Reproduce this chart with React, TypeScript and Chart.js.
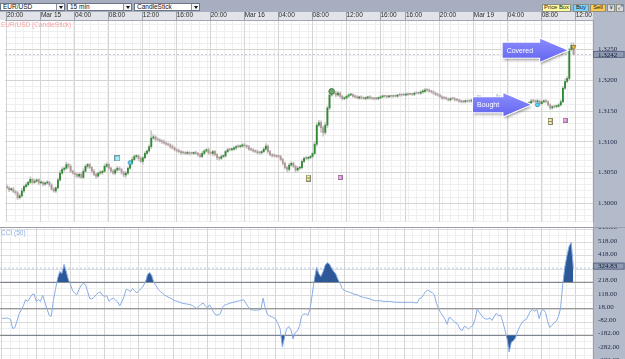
import React, { useEffect, useRef } from 'react';
import { Chart, registerables } from 'chart.js';

Chart.register(...registerables);

// ---------------- data ----------------
const timeTickBars = [0, 16, 32, 48, 64, 80, 96, 112, 128, 144, 160, 176, 188, 204, 220, 236, 252, 268];
const timeTickLabels = ['20:00', 'Mar 15', '04:00', '08:00', '12:00', '16:00', '20:00', 'Mar 16', '04:00', '08:00', '12:00', '16:00', '16:00', '20:00', 'Mar 19', '04:00', '08:00', '12:00'];

const firstOpen = 1.3027;
const closes = [
  1.3025, 1.3022, 1.3023, 1.3019, 1.3017, 1.3009, 1.3012, 1.3020, 1.3027, 1.3030,
  1.3034, 1.3039, 1.3034, 1.3036, 1.3038, 1.3033, 1.3034, 1.3031, 1.3033, 1.3034,
  1.3030, 1.3023, 1.3020, 1.3025, 1.3038, 1.3049, 1.3055, 1.3057, 1.3063, 1.3060,
  1.3052, 1.3049, 1.3047, 1.3044, 1.3047, 1.3042, 1.3052, 1.3060, 1.3063, 1.3058,
  1.3052, 1.3047, 1.3044, 1.3049, 1.3050, 1.3052, 1.3060, 1.3063, 1.3057, 1.3052,
  1.3049, 1.3054, 1.3057, 1.3055, 1.3050, 1.3046, 1.3049, 1.3057, 1.3065, 1.3071,
  1.3076, 1.3077, 1.3073, 1.3068, 1.3074, 1.3081, 1.3085, 1.3092, 1.3106, 1.3108,
  1.3104, 1.3103, 1.3101, 1.3100, 1.3098, 1.3096, 1.3095, 1.3092, 1.3090, 1.3087,
  1.3085, 1.3084, 1.3082, 1.3082, 1.3081, 1.3082, 1.3081, 1.3081, 1.3082, 1.3081,
  1.3079, 1.3076, 1.3081, 1.3085, 1.3087, 1.3082, 1.3081, 1.3084, 1.3079, 1.3074,
  1.3073, 1.3076, 1.3077, 1.3084, 1.3087, 1.3087, 1.3088, 1.3090, 1.3092, 1.3092,
  1.3093, 1.3095, 1.3093, 1.3092, 1.3088, 1.3087, 1.3085, 1.3084, 1.3082, 1.3082,
  1.3084, 1.3088, 1.3093, 1.3084, 1.3079, 1.3077, 1.3077, 1.3076, 1.3076, 1.3071,
  1.3065, 1.3058, 1.3055, 1.3062, 1.3065, 1.3060, 1.3054, 1.3057, 1.3058, 1.3068,
  1.3073, 1.3073, 1.3074, 1.3076, 1.3081, 1.3096, 1.3127, 1.3131, 1.3123, 1.3115,
  1.3127, 1.3155, 1.3176, 1.3181, 1.3179, 1.3176, 1.3179, 1.3174, 1.3170, 1.3171,
  1.3174, 1.3176, 1.3177, 1.3174, 1.3173, 1.3171, 1.3173, 1.3171, 1.3170, 1.3171,
  1.3173, 1.3171, 1.3170, 1.3170, 1.3170, 1.3171, 1.3173, 1.3174, 1.3174, 1.3173,
  1.3174, 1.3174, 1.3174, 1.3174, 1.3176, 1.3176, 1.3176, 1.3176, 1.3177, 1.3177,
  1.3177, 1.3177, 1.3179, 1.3179, 1.3179, 1.3181, 1.3182, 1.3184, 1.3184, 1.3182,
  1.3181, 1.3179, 1.3177, 1.3176, 1.3173, 1.3171, 1.3171, 1.3170, 1.3168, 1.3170,
  1.3170, 1.3168, 1.3168, 1.3166, 1.3165, 1.3165, 1.3166, 1.3166, 1.3166, 1.3168,
  1.3168, 1.3170, 1.3173, 1.3171, 1.3170, 1.3168, 1.3168, 1.3168, 1.3170, 1.3168,
  1.3170, 1.3173, 1.3171, 1.3170, 1.3165, 1.3158, 1.3154, 1.3149, 1.3150, 1.3152,
  1.3154, 1.3157, 1.3158, 1.3160, 1.3162, 1.3162, 1.3163, 1.3166, 1.3166, 1.3165,
  1.3166, 1.3162, 1.3165, 1.3166, 1.3165, 1.3160, 1.3155, 1.3157, 1.3157, 1.3158,
  1.3160, 1.3165, 1.3187, 1.3198, 1.3203, 1.3250, 1.3257, 1.3242,
];
const wickUpPips = [
  3, 2, 2, 3, 2, 2, 3, 4, 2, 3, 2, 4, 2, 3, 2, 2, 3, 2, 2, 3,
  2, 2, 3, 2, 3, 4, 3, 2, 4, 2, 3, 2, 2, 3, 2, 3, 4, 3, 2, 2,
  2, 3, 2, 2, 3, 2, 4, 3, 2, 2, 3, 2, 3, 2, 2, 2, 3, 2, 3, 4,
  3, 2, 2, 3, 2, 3, 2, 3, 12, 4, 2, 3, 2, 2, 3, 2, 2, 2, 3, 2,
  2, 3, 2, 2, 2, 3, 2, 2, 2, 3, 2, 2, 3, 2, 2, 3, 2, 2, 2, 2,
  2, 3, 2, 2, 3, 2, 2, 2, 2, 3, 2, 2, 3, 2, 2, 2, 2, 2, 3, 2,
  2, 3, 4, 2, 2, 2, 3, 2, 2, 2, 2, 2, 2, 3, 3, 2, 2, 3, 2, 3,
  2, 3, 2, 2, 2, 3, 4, 4, 3, 3, 4, 3, 4, 5, 3, 3, 3, 2, 2, 2,
  2, 2, 2, 1, 2, 2, 1, 2, 2, 2, 1, 2, 2, 1, 2, 2, 2, 2, 1, 2,
  2, 1, 2, 2, 1, 2, 1, 2, 2, 1, 2, 1, 2, 2, 1, 2, 3, 3, 2, 2,
  2, 2, 2, 1, 2, 2, 2, 2, 1, 2, 2, 2, 2, 1, 2, 2, 2, 2, 2, 2,
  2, 2, 3, 2, 2, 2, 2, 2, 2, 2, 2, 4, 2, 2, 2, 2, 2, 2, 2, 2,
  2, 2, 2, 2, 2, 2, 2, 3, 3, 2, 3, 2, 3, 2, 3, 2, 2, 2, 2, 2,
  2, 3, 3, 4, 3, 2, 4, 4,
];
const wickDownPips = [
  2, 3, 2, 2, 3, 3, 2, 2, 3, 2, 2, 2, 3, 2, 2, 3, 2, 3, 2, 2,
  3, 2, 2, 3, 2, 2, 2, 3, 2, 3, 2, 2, 4, 2, 3, 2, 2, 2, 3, 2,
  3, 2, 4, 2, 2, 3, 2, 2, 3, 2, 2, 3, 2, 2, 3, 3, 4, 2, 2, 3,
  2, 3, 4, 2, 5, 2, 2, 2, 3, 2, 2, 2, 2, 3, 2, 2, 2, 3, 2, 2,
  2, 2, 3, 2, 2, 2, 3, 2, 2, 2, 3, 2, 2, 2, 2, 3, 2, 4, 2, 3,
  3, 2, 2, 2, 2, 2, 2, 2, 3, 2, 2, 2, 2, 3, 2, 2, 2, 2, 2, 3,
  2, 2, 2, 3, 2, 2, 2, 2, 3, 2, 3, 2, 4, 3, 2, 2, 4, 2, 2, 2,
  2, 2, 3, 2, 3, 2, 3, 3, 8, 6, 3, 4, 3, 2, 2, 3, 2, 3, 2, 2,
  2, 2, 1, 2, 2, 1, 2, 2, 1, 2, 2, 2, 1, 2, 2, 2, 1, 2, 2, 2,
  1, 2, 2, 1, 2, 2, 2, 1, 2, 2, 1, 2, 2, 1, 2, 2, 2, 2, 2, 1,
  2, 2, 2, 2, 1, 2, 2, 2, 2, 2, 1, 2, 2, 2, 2, 2, 2, 2, 2, 2,
  2, 2, 2, 2, 2, 2, 2, 2, 2, 2, 2, 2, 2, 2, 3, 2, 4, 3, 3, 2,
  2, 2, 2, 2, 2, 2, 2, 2, 2, 2, 2, 3, 2, 2, 2, 2, 3, 2, 2, 2,
  2, 2, 2, 2, 2, 2, 2, 1,
];
const priceTicks = [1.3, 1.305, 1.31, 1.315, 1.32, 1.325];

const cciValues = [
  -52, -55, -50, -55, -62, -130, -125, -74, -20, 10,
  40, 87, 74, 99, 125, 130, 74, 87, 74, 120,
  70, 20, -30, -40, 80, 165, 248, 300, 285, 353,
  300, 240, 200, 155, 135, 124, 165, 195, 210, 200,
  150, 95, 92, 105, 124, 140, 145, 118, 113, 116,
  74, 90, 99, 85, 72, 40, 70, 110, 165, 160,
  148, 170, 155, 137, 155, 170, 190, 218, 275, 292,
  268, 215, 192, 165, 148, 135, 122, 112, 104, 97,
  84, 78, 74, 68, 62, 57, 55, 52, 50, 42,
  32, 20, 35, 52, 62, 40, 25, 48, 20, -12,
  -30, -28, -20, 30, 45, 50, 58, 63, 67, 72,
  75, 80, 84, 86, 60, 35, 14, 9, 8, 8,
  10, 13, 99, 25, -24, -35, -42, -50, -61, -95,
  -135, -271, -200, -135, -115, -140, -209, -162, -150, -115,
  -35, -22, -20, -30, 20, 130, 245, 330, 285, 262,
  297, 346, 366, 356, 325, 300, 280, 240, 210, 170,
  158, 150, 144, 140, 132, 127, 124, 114, 108, 104,
  100, 97, 92, 85, 81, 79, 79, 79, 75, 74,
  74, 74, 72, 69, 68, 67, 67, 67, 67, 67,
  67, 67, 67, 64, 62, 95, 100, 124, 150, 160,
  148, 140, 125, 60, 20, -12, -35, -60, -98, -45,
  -55, -75, -88, -100, -135, -148, -115, -120, -135, -120,
  -108, -65, 13, -8, -30, -50, -58, -60, -50, -70,
  -40, -15, -35, -28, -80, -140, -209, -308, -234, -222,
  -200, -150, -115, -85, -70, -62, -30, 2, 12, 0,
  13, -56, 0, 13, -10, -80, -123, -105, -90, -75,
  -40, 20, 198, 333, 420, 490, 519, 324.83,
];
const cciTicks = [618, 518, 418, 318, 218, 118, 18, -82, -182, -282, -382];
const cciLevels = [218, 18, -182];

const markerKinds = ['cyanSquare', 'cyanDot', 'yellowTag', 'pinkSquare', 'greenDot', 'cyanDot', 'yellowTag', 'pinkSquare', 'coveredTri'];
const markerBars = [52, 58, 142, 157, 153, 250, 256, 263, 267];
const markerPrices = [1.3073, 1.3066, 1.3041, 1.3042, 1.3182, 1.316, 1.3133, 1.3135, 1.3254];

const arrowTexts = ['Covered', 'Bought'];
const arrowTailBars = [233.6, 219.6];
const arrowTipBars = [264.0, 246.7];
const arrowPrices = [1.3249, 1.316];

// ---------------- helpers ----------------
const PIP = 0.0001;
const X_MIN = -0.93;
const X_MAX = 276.17;
const P_MIN = 1.29695;
const P_MAX = 1.3298;
const C_MIN = -360.9;
const C_MAX = 635.4;
const SANS = "'Liberation Sans', Arial, sans-serif";
const SERIF = "'Liberation Serif', 'Times New Roman', serif";

const bars = closes.map((_, i) => i);
const opens = closes.map((c, i) => (i === 0 ? firstOpen : closes[i - 1]));
const highs = closes.map((c, i) => Math.max(opens[i], c) + wickUpPips[i] * PIP);
const lows = closes.map((c, i) => Math.min(opens[i], c) - wickDownPips[i] * PIP);

function range(a: number, b: number, step: number) {
  const out: number[] = [];
  for (let v = a; v <= b + 1e-9; v += step) out.push(Math.round(v * 1e6) / 1e6);
  return out;
}
const minorBarTicks = range(0, 276, 4);
const minorPriceTicks = range(1.297, 1.329, 0.001);
const minorCciTicks = range(-332, 568, 100);

const fixV = (w: number) => (s: any) => { s.width = w; s.paddingTop = 0; s.paddingBottom = 0; };
const fixH = (h: number) => (s: any) => { s.height = h; s.paddingLeft = 0; s.paddingRight = 0; };
const setTicks = (vals: number[]) => (s: any) => { s.ticks = vals.map((v) => ({ value: v })); };

function makeIcon(w: number, h: number, draw: (c: CanvasRenderingContext2D) => void) {
  const cv = document.createElement('canvas');
  cv.width = w; cv.height = h;
  const c = cv.getContext('2d') as CanvasRenderingContext2D;
  draw(c);
  return cv;
}

function drawArrow(ctx: CanvasRenderingContext2D, x0: number, x1: number, y: number, text: string) {
  const bodyH = 7.5, headH = 11.5, headL = 27;
  const xh = x1 - headL;
  ctx.save();
  ctx.beginPath();
  ctx.moveTo(x0, y - bodyH);
  ctx.lineTo(xh, y - bodyH);
  ctx.lineTo(xh, y - headH);
  ctx.lineTo(x1, y);
  ctx.lineTo(xh, y + headH);
  ctx.lineTo(xh, y + bodyH);
  ctx.lineTo(x0, y + bodyH);
  ctx.closePath();
  ctx.shadowColor = 'rgba(0,0,0,0.45)';
  ctx.shadowBlur = 3;
  ctx.shadowOffsetX = 1;
  ctx.shadowOffsetY = 2;
  ctx.fillStyle = '#ffffff';
  ctx.fill();
  ctx.shadowColor = 'rgba(0,0,0,0)';
  ctx.lineWidth = 2.2;
  ctx.strokeStyle = '#ffffff';
  ctx.stroke();
  const g = ctx.createLinearGradient(0, y - headH, 0, y + headH);
  g.addColorStop(0, '#8a8cff');
  g.addColorStop(1, '#6466ee');
  ctx.fillStyle = g;
  ctx.fill();
  ctx.fillStyle = '#ffffff';
  ctx.font = `7px ${SANS}`;
  ctx.textBaseline = 'middle';
  ctx.textAlign = 'left';
  ctx.fillText(text, x0 + 4, y + 0.5);
  ctx.restore();
}

function valueBox(chart: any, value: number, text: string, dy: number) {
  const { ctx, chartArea } = chart;
  const yScale = chart.scales.y;
  const y = yScale.getPixelForValue(value) + dy;
  const w = chart.width;
  ctx.save();
  ctx.fillStyle = '#8e9ab2';
  ctx.fillRect(chartArea.right, y - 3.5, w - chartArea.right, 7);
  ctx.strokeStyle = '#5e6a86';
  ctx.lineWidth = 1;
  ctx.strokeRect(chartArea.right + 0.5, y - 3, w - chartArea.right - 1.5, 6);
  ctx.fillStyle = '#121a33';
  ctx.font = `7px ${SERIF}`;
  ctx.textBaseline = 'middle';
  ctx.textAlign = 'left';
  ctx.fillText(text, chartArea.right + 5, y + 0.5);
  ctx.restore();
}

// ---------------- components ----------------
function Dropdown({ left, width, text }: { left: number; width: number; text: string }) {
  return (
    <div style={{ position: 'absolute', left, top: 3, width, height: 8, background: '#fff', border: '1px solid #6d7585', boxSizing: 'border-box', fontSize: 6.5, lineHeight: '6px', color: '#111', paddingLeft: 2, whiteSpace: 'nowrap' }}>
      {text}
      <div style={{ position: 'absolute', right: 0, top: 0, width: 7, height: 6, borderLeft: '1px solid #8a90a0', background: '#f4f5f8' }}>
        <div style={{ position: 'absolute', left: 1.5, top: 1.5, width: 0, height: 0, borderLeft: '2px solid transparent', borderRight: '2px solid transparent', borderTop: '3px solid #111' }} />
      </div>
    </div>
  );
}

function Btn({ left, width, text, bg }: { left: number; width: number; text: string; bg: string }) {
  return (
    <div style={{ position: 'absolute', left, top: 4, width, height: 7.5, background: bg, border: '1px solid #8c8f80', boxSizing: 'border-box', fontSize: 5.8, lineHeight: '5.5px', color: '#1a1a1a', textAlign: 'center', whiteSpace: 'nowrap', overflow: 'hidden' }}>
      {text}
    </div>
  );
}

function Toolbar() {
  return (
    <div style={{ position: 'absolute', left: 0, top: 0, width: 625, height: 12, background: '#a6aebf', fontFamily: SANS }}>
      <Dropdown left={0} width={65} text="EUR/USD" />
      <Dropdown left={67} width={65} text="15 min" />
      <Dropdown left={134} width={66} text="CandleStick" />
      <Btn left={542} width={29} text="Price Box" bg="#fdfca0" />
      <Btn left={573} width={16} text="Buy" bg="#78d2ff" />
      <Btn left={590} width={16} text="Sell" bg="#ffc94f" />
      <Btn left={607} width={8} text="∨" bg="#d9dde5" />
      <Btn left={616} width={8} text="⤢" bg="#d9dde5" />
    </div>
  );
}

export default function App() {
  const mainRef = useRef<HTMLCanvasElement>(null);
  const cciRef = useRef<HTMLCanvasElement>(null);

  useEffect(() => {
    document.body.style.margin = '0';

    const icons: Record<string, any> = {
      cyanSquare: makeIcon(6, 6, (c) => {
        c.fillStyle = '#a4f0f8'; c.strokeStyle = '#6e98a8'; c.lineWidth = 1;
        c.fillRect(0.5, 0.5, 5, 5); c.strokeRect(0.5, 0.5, 5, 5);
      }),
      yellowTag: makeIcon(5, 7, (c) => {
        c.fillStyle = '#f8ee9a'; c.strokeStyle = '#8a8870'; c.lineWidth = 1;
        c.fillRect(0.5, 0.5, 4, 6); c.strokeRect(0.5, 0.5, 4, 6);
        c.beginPath(); c.moveTo(0.5, 3.5); c.lineTo(4.5, 3.5); c.stroke();
      }),
      pinkSquare: makeIcon(5, 5, (c) => {
        c.fillStyle = '#f2a8f0'; c.strokeStyle = '#9a7898'; c.lineWidth = 1;
        c.fillRect(0.5, 0.5, 4, 4); c.strokeRect(0.5, 0.5, 4, 4);
      }),
    };
    const kindStyle: Record<string, any> = {
      cyanSquare: { style: icons.cyanSquare, r: 3, bg: '#a4f0f8', bd: '#6e98a8' },
      cyanDot: { style: 'circle', r: 2, bg: '#5ad2f0', bd: '#4a9cc0' },
      yellowTag: { style: icons.yellowTag, r: 3, bg: '#f8ee9a', bd: '#8a8870' },
      pinkSquare: { style: icons.pinkSquare, r: 3, bg: '#f2a8f0', bd: '#9a7898' },
      greenDot: { style: 'circle', r: 2.8, bg: '#6aa86a', bd: '#4c7c4c' },
      coveredTri: { style: 'triangle', r: 2.8, bg: '#f2c64e', bd: '#9a7a30' },
    };

    const last = closes[closes.length - 1];
    const lastCci = cciValues[cciValues.length - 1];

    const mainPlugin = {
      id: 'mainDecor',
      beforeDraw(chart: any) {
        const { ctx, chartArea, width, height } = chart;
        ctx.save();
        ctx.fillStyle = '#e1e3e8';
        ctx.fillRect(0, 0, chartArea.right, chartArea.top);
        ctx.fillStyle = '#b3bbca';
        ctx.fillRect(chartArea.right, 0, width - chartArea.right, height);
        ctx.restore();
      },
      afterDatasetsDraw(chart: any) {
        const { ctx, chartArea } = chart;
        const xs = chart.scales.x;
        const ys = chart.scales.y;
        ctx.save();
        ctx.fillStyle = '#f2a3a3';
        ctx.font = `6.5px ${SANS}`;
        ctx.textBaseline = 'top';
        ctx.textAlign = 'left';
        ctx.fillText('EUR/USD (CandleStick)', 1, chartArea.top + 2);
        ctx.restore();
        arrowTexts.forEach((t, k) => {
          drawArrow(ctx, xs.getPixelForValue(arrowTailBars[k]), xs.getPixelForValue(arrowTipBars[k]), ys.getPixelForValue(arrowPrices[k]), t);
        });
      },
      afterDraw(chart: any) {
        valueBox(chart, last, last.toFixed(4), 0);
      },
    };

    const cciPlugin = {
      id: 'cciDecor',
      beforeDraw(chart: any) {
        const { ctx, chartArea, width, height } = chart;
        ctx.save();
        ctx.fillStyle = '#b3bbca';
        ctx.fillRect(chartArea.right, 0, width - chartArea.right, height);
        ctx.restore();
      },
      afterDatasetsDraw(chart: any) {
        const { ctx } = chart;
        ctx.save();
        ctx.fillStyle = '#8eaee2';
        ctx.font = `6.5px ${SANS}`;
        ctx.textBaseline = 'top';
        ctx.textAlign = 'left';
        ctx.fillText('CCI (50)', 1, 2.5);
        ctx.restore();
      },
      afterDraw(chart: any) {
        const { ctx, width } = chart;
        valueBox(chart, lastCci, lastCci.toFixed(2), -2);
        ctx.save();
        ctx.strokeStyle = '#9a9ea6';
        ctx.lineWidth = 1;
        ctx.beginPath();
        ctx.moveTo(0, 0.5);
        ctx.lineTo(width, 0.5);
        ctx.stroke();
        ctx.restore();
      },
    };

    const minorX = {
      type: 'linear', position: 'top', min: X_MIN, max: X_MAX,
      afterBuildTicks: setTicks(minorBarTicks),
      ticks: { display: false },
      grid: { color: '#efefef', drawTicks: false },
      border: { display: false },
      afterFit: fixH(0),
    };

    const main = new Chart(mainRef.current as HTMLCanvasElement, {
      type: 'bar',
      data: {
        datasets: [
          {
            type: 'line',
            label: 'markers',
            data: markerBars.map((b, k) => ({ x: b, y: markerPrices[k] })),
            showLine: false,
            pointStyle: markerKinds.map((k) => kindStyle[k].style),
            pointRadius: markerKinds.map((k) => kindStyle[k].r),
            pointRotation: markerKinds.map((k) => (k === 'coveredTri' ? 180 : 0)),
            pointBackgroundColor: markerKinds.map((k) => kindStyle[k].bg),
            pointBorderColor: markerKinds.map((k) => kindStyle[k].bd),
            pointBorderWidth: 1,
            xAxisID: 'x', yAxisID: 'y',
            order: 0,
          } as any,
          {
            type: 'bar',
            label: 'bodies',
            data: bars.map((i) => ({ x: i, y: [Math.min(opens[i], closes[i]), Math.max(opens[i], closes[i])] })),
            backgroundColor: bars.map((i) => (closes[i] > opens[i] ? '#2f8a34' : closes[i] < opens[i] ? '#b09898' : '#a09a9a')),
            barThickness: 1.2,
            minBarLength: 1,
            grouped: false,
            xAxisID: 'x', yAxisID: 'y',
            order: 1,
          } as any,
          {
            type: 'bar',
            label: 'wicks',
            data: bars.map((i) => ({ x: i, y: [lows[i], highs[i]] })),
            backgroundColor: '#ccc7c7',
            barThickness: 1,
            grouped: false,
            xAxisID: 'x', yAxisID: 'y',
            order: 2,
          } as any,
          {
            type: 'line',
            label: 'last',
            data: [{ x: X_MIN, y: last }, { x: X_MAX, y: last }],
            borderColor: '#c6c9d6',
            borderWidth: 1,
            borderDash: [2, 2],
            pointRadius: 0,
            xAxisID: 'x', yAxisID: 'y',
            order: 3,
          } as any,
        ],
      },
      options: {
        responsive: false,
        animation: false,
        events: [],
        layout: { padding: 0 },
        plugins: { legend: { display: false }, tooltip: { enabled: false } },
        scales: {
          xMinor: minorX,
          yMinor: {
            type: 'linear', position: 'right', min: P_MIN, max: P_MAX,
            afterBuildTicks: setTicks(minorPriceTicks),
            ticks: { display: false },
            grid: { color: '#efefef', drawTicks: false },
            border: { display: false },
            afterFit: fixV(0),
          },
          x: {
            type: 'linear', position: 'top', min: X_MIN, max: X_MAX, offset: false,
            afterBuildTicks: setTicks(timeTickBars),
            ticks: {
              autoSkip: false, maxRotation: 0, minRotation: 0, align: 'start', padding: -7.6,
              color: '#2b2b2b', font: { family: SANS, size: 6.5 },
              callback: (_v: any, i: number) => timeTickLabels[i],
            },
            grid: { color: '#d5d5d5', tickColor: '#99a0ae', tickLength: 8, offset: false },
            border: { display: true, color: '#a3a7b0' },
            afterFit: fixH(8),
          },
          y: {
            type: 'linear', position: 'right', min: P_MIN, max: P_MAX,
            afterBuildTicks: setTicks(priceTicks),
            ticks: { padding: 5, color: '#1d2847', font: { family: SERIF, size: 7 }, callback: (v: any) => Number(v).toFixed(4) },
            grid: { color: '#d5d5d5', drawTicks: false },
            border: { display: true, color: '#97a0b2' },
            afterFit: fixV(32),
          },
        } as any,
      },
      plugins: [mainPlugin],
    } as any);

    const cciFillColor = '#2d5897';
    const cciPoints = bars.map((i) => ({ x: i, y: cciValues[i] }));
    const cci = new Chart(cciRef.current as HTMLCanvasElement, {
      type: 'line',
      data: {
        datasets: [
          {
            label: 'CCI (50)',
            data: cciPoints,
            borderColor: '#88ade6',
            borderWidth: 1,
            pointRadius: 0,
            fill: { target: { value: cciLevels[0] }, above: cciFillColor, below: 'rgba(0,0,0,0)' },
            xAxisID: 'x', yAxisID: 'y',
            order: 1,
          },
          {
            label: 'CCI low fill',
            data: cciPoints,
            borderColor: 'rgba(0,0,0,0)',
            borderWidth: 0,
            pointRadius: 0,
            fill: { target: { value: cciLevels[2] }, above: 'rgba(0,0,0,0)', below: cciFillColor },
            xAxisID: 'x', yAxisID: 'y',
            order: 2,
          },
          ...cciLevels.map((lv) => ({
            label: 'level ' + lv,
            data: [{ x: X_MIN, y: lv }, { x: X_MAX, y: lv }],
            borderColor: '#7c7c7c',
            borderWidth: 1,
            pointRadius: 0,
            fill: false,
            xAxisID: 'x', yAxisID: 'y',
            order: 3,
          })),
          {
            label: 'last cci',
            data: [{ x: X_MIN, y: lastCci }, { x: X_MAX, y: lastCci }],
            borderColor: '#b6ccee',
            borderWidth: 1,
            borderDash: [2, 2],
            pointRadius: 0,
            fill: false,
            xAxisID: 'x', yAxisID: 'y',
            order: 4,
          },
        ],
      },
      options: {
        responsive: false,
        animation: false,
        events: [],
        layout: { padding: 0 },
        plugins: { legend: { display: false }, tooltip: { enabled: false } },
        scales: {
          xMinor: { ...minorX, position: 'bottom' },
          yMinor: {
            type: 'linear', position: 'right', min: C_MIN, max: C_MAX,
            afterBuildTicks: setTicks(minorCciTicks),
            ticks: { display: false },
            grid: { color: '#f0f0f0', drawTicks: false },
            border: { display: false },
            afterFit: fixV(0),
          },
          x: {
            type: 'linear', position: 'bottom', min: X_MIN, max: X_MAX, offset: false,
            afterBuildTicks: setTicks(timeTickBars),
            ticks: { display: false },
            grid: { color: '#d5d5d5', drawTicks: false, offset: false },
            border: { display: false },
            afterFit: fixH(0),
          },
          y: {
            type: 'linear', position: 'right', min: C_MIN, max: C_MAX,
            afterBuildTicks: setTicks(cciTicks),
            ticks: {
              padding: 5, color: '#1d2847', font: { family: SERIF, size: 7, lineHeight: 0.5 },
              callback: (v: any) => [Number(v).toFixed(2), ''],
            },
            grid: { color: '#dcdcdc', drawTicks: false },
            border: { display: true, color: '#97a0b2' },
            afterFit: fixV(32),
          },
        } as any,
      },
      plugins: [cciPlugin],
    } as any);

    return () => {
      main.destroy();
      cci.destroy();
    };
  }, []);

  return (
    <div style={{ position: 'fixed', left: 0, top: 0, width: 625, height: 359, overflow: 'hidden', background: '#ffffff', fontFamily: SANS }}>
      <Toolbar />
      <canvas ref={mainRef} width={625} height={215} style={{ position: 'absolute', left: 0, top: 12, width: 625, height: 215 }} />
      <canvas ref={cciRef} width={625} height={132} style={{ position: 'absolute', left: 0, top: 227, width: 625, height: 132 }} />
    </div>
  );
}
